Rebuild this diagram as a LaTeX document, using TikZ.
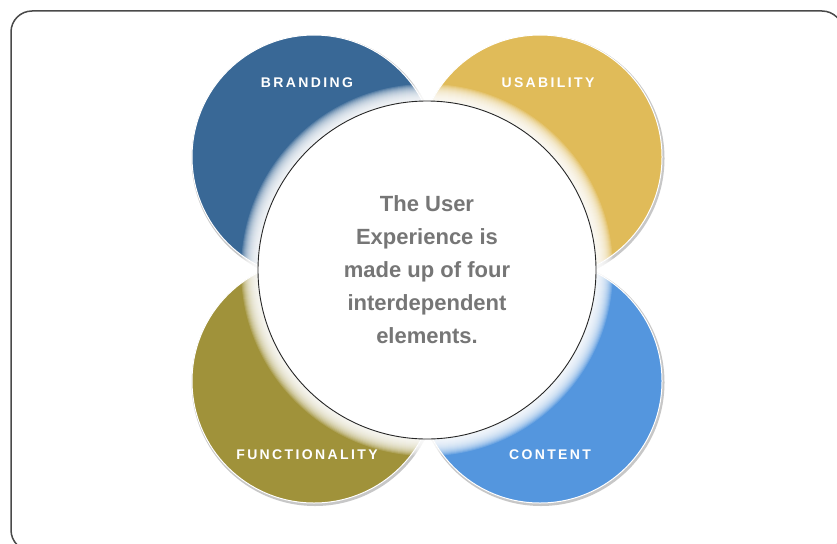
\documentclass[tikz,border=0pt]{standalone}
\usepackage{fontspec}
\setmainfont{Liberation Sans}
\newfontfamily\labelfont[LetterSpace=17]{Liberation Sans}
\definecolor{brandblue}{HTML}{396896}
\definecolor{usegold}{HTML}{E0BB59}
\definecolor{funcolive}{HTML}{A0923A}
\definecolor{contblue}{HTML}{5496DE}
\definecolor{frame}{HTML}{4A4A4A}
\definecolor{bodytext}{HTML}{767676}
\tikzset{
  petal/.style={circle, minimum size=244pt, inner sep=0pt, draw=white, line width=1pt},
  petalshadow/.style={circle, minimum size=247pt, inner sep=0pt, fill=black!22},
  petallabel/.style={text=white, font=\labelfont\bfseries\fontsize{14}{16}\selectfont},
  hub/.style={circle, minimum size=338pt, inner sep=0pt, fill=white, draw=black!85, line width=0.9pt},
  hubtext/.style={text=bodytext, align=center, font=\bfseries\fontsize{22}{33}\selectfont}
}
\begin{document}
\begin{tikzpicture}[x=1pt, y=-1pt]
  \useasboundingbox (0,0) rectangle (837,543);
  \clip (0,0) rectangle (837,543);
  \fill[white] (0,0) rectangle (837,543);
  % outer frame, running past the right and bottom edges
  \draw[frame, line width=1.5pt, rounded corners=21pt] (11,11) rectangle (843,551);

  % soft shadows under the four petals
  \node[petalshadow] (shbrand) at (315,158.5) {};
  \node[petalshadow] (shuse)   at (541,158.5) {};
  \node[petalshadow] (shfunc)  at (315,382.5) {};
  \node[petalshadow] (shcont)  at (541,382.5) {};

  % the four petals
  \node[petal, fill=brandblue] (brand) at (314,157) {};
  \node[petal, fill=usegold]   (use)   at (540,157) {};
  \node[petal, fill=funcolive] (func)  at (314,381) {};
  \node[petal, fill=contblue]  (cont)  at (540,381) {};

  % white glow around the hub
  \foreach \r in {0,...,17}
    \fill[white, opacity=0.15] (427,270) circle[radius=169pt+\r pt];

  % central hub
  \node[hub] (hub) at (427,270) {};
  \node[hubtext] (hubtxt) at (hub.center)
    {The User\\Experience is\\made up of four\\interdependent\\elements.};

  % petal labels
  \node[petallabel] (lbrand) at (307,83)  {BRANDING};
  \node[petallabel] (luse)   at (548,83)  {USABILITY};
  \node[petallabel] (lfunc)  at (307,455) {FUNCTIONALITY};
  \node[petallabel] (lcont)  at (550,455) {CONTENT};
\end{tikzpicture}
\end{document}
